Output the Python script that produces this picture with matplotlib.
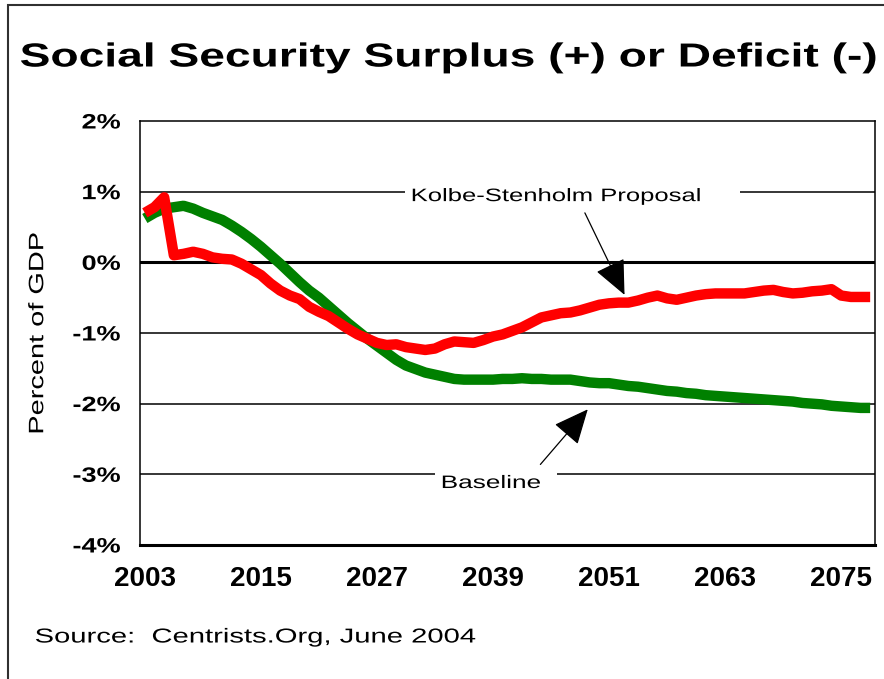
import matplotlib
matplotlib.use("Agg")
import matplotlib.pyplot as plt
from matplotlib.patches import Rectangle
from matplotlib.patheffects import AbstractPathEffect
from matplotlib.transforms import Affine2D

plt.rcParams['font.family'] = ['Liberation Sans', 'DejaVu Sans']

years = list(range(2003, 2079))
kolbe = [0.70, 0.78, 0.92, 0.10, 0.12, 0.15, 0.12, 0.07, 0.05, 0.04,
         -0.02, -0.10, -0.18, -0.30, -0.40, -0.47, -0.52, -0.63, -0.70, -0.76,
         -0.85, -0.94, -1.02, -1.08, -1.14, -1.17, -1.16, -1.20, -1.22, -1.24,
         -1.22, -1.16, -1.12, -1.13, -1.14, -1.10, -1.05, -1.02, -0.97, -0.92,
         -0.85, -0.78, -0.75, -0.72, -0.71, -0.68, -0.64, -0.60, -0.58, -0.57,
         -0.57, -0.54, -0.50, -0.47, -0.51, -0.53, -0.50, -0.47, -0.45, -0.44,
         -0.44, -0.44, -0.44, -0.42, -0.40, -0.39, -0.42, -0.44, -0.43, -0.41,
         -0.40, -0.38, -0.47, -0.49, -0.49, -0.49]
baseline = [0.62, 0.70, 0.76, 0.78, 0.80, 0.76, 0.70, 0.65, 0.60, 0.52,
            0.43, 0.33, 0.22, 0.10, -0.02, -0.15, -0.28, -0.40, -0.50, -0.62,
            -0.74, -0.86, -0.97, -1.08, -1.18, -1.28, -1.38, -1.46, -1.51, -1.56,
            -1.59, -1.62, -1.65, -1.66, -1.66, -1.66, -1.66, -1.65, -1.65, -1.64,
            -1.65, -1.65, -1.66, -1.66, -1.66, -1.68, -1.70, -1.71, -1.71, -1.73,
            -1.75, -1.76, -1.78, -1.80, -1.82, -1.83, -1.85, -1.86, -1.88, -1.89,
            -1.90, -1.91, -1.92, -1.93, -1.94, -1.95, -1.96, -1.97, -1.99, -2.00,
            -2.01, -2.03, -2.04, -2.05, -2.06, -2.06]
xtick_years = [2003, 2015, 2027, 2039, 2051, 2063, 2075]
yticks = [2, 1, 0, -1, -2, -3, -4]
ytick_labels = ["2%", "1%", "0%", "-1%", "-2%", "-3%", "-4%"]


class Stretch(AbstractPathEffect):
    """Render text glyphs widened along one display axis."""
    def __init__(self, sx=1.0, sy=1.0, ax_anchor="center", ay_anchor="center"):
        super().__init__()
        self.sx, self.sy = sx, sy
        self.ax_anchor, self.ay_anchor = ax_anchor, ay_anchor

    def draw_path(self, renderer, gc, tpath, affine, rgbFace=None):
        bb = tpath.get_extents(affine)
        x0 = {"left": bb.x0, "right": bb.x1, "center": (bb.x0 + bb.x1) / 2}[self.ax_anchor]
        y0 = {"bottom": bb.y0, "top": bb.y1, "center": (bb.y0 + bb.y1) / 2}[self.ay_anchor]
        t = affine + Affine2D().translate(-x0, -y0).scale(self.sx, self.sy).translate(x0, y0)
        renderer.draw_path(gc, tpath, t, rgbFace)


W, H = 884, 679
fig = plt.figure(figsize=(W / 100, H / 100), dpi=100)
fig.patch.set_facecolor("white")

fig.add_artist(Rectangle((8 / W, -0.05), 1.2, 1 - 5 / H + 0.05, transform=fig.transFigure,
                         fill=False, edgecolor="#303030", linewidth=1.5))

ax = fig.add_axes([140 / W, 1 - 545 / H, (875 - 140) / W, (545 - 121) / H])
ax.set_xlim(2002.5, 2078.5)
ax.set_ylim(-4, 2)

for y in yticks:
    if y == 0:
        ax.axhline(y, color="black", linewidth=2.2, zorder=1)
    elif y not in (2, -4):
        ax.axhline(y, color="black", linewidth=1.1, zorder=1)

ax.plot(years, baseline, color="#008000", linewidth=7.5, solid_capstyle="butt", zorder=3)
ax.plot(years, kolbe, color="#FF0000", linewidth=7.5, solid_capstyle="butt", zorder=4)

for side in ("left", "right", "top"):
    ax.spines[side].set_linewidth(1.1)
    ax.spines[side].set_color("black")
ax.spines["bottom"].set_linewidth(2.2)

ax.set_yticks(yticks)
ax.set_yticklabels(ytick_labels, fontsize=15, fontweight="bold")
for lab in ax.get_yticklabels():
    lab.set_path_effects([Stretch(sx=1.3, ax_anchor="right")])
ax.set_xticks(xtick_years)
ax.set_xticklabels([str(y) for y in xtick_years], fontsize=20, fontweight="bold")
ax.tick_params(axis="both", length=0)
ax.tick_params(axis="y", pad=14)
ax.tick_params(axis="x", pad=15)

ylab = ax.set_ylabel("Percent of GDP", fontsize=15, labelpad=26)
ylab.set_path_effects([Stretch(sy=1.39)])

arrow_kw = dict(arrowstyle="-|>,head_length=1.0,head_width=0.45", color="black",
                linewidth=0.9, mutation_scale=22, shrinkA=0, shrinkB=0)
ax.annotate("", xy=(2052.6, -0.46), xytext=(2048.5, 0.70), arrowprops=arrow_kw, zorder=6)
ax.annotate("", xy=(2048.8, -2.08), xytext=(2043.9, -2.86), arrowprops=arrow_kw, zorder=6)

# gaps in the gridlines behind the labels
ax.add_patch(Rectangle((2029.9, 0.9), 34.6, 0.2, facecolor="white", edgecolor="none", zorder=5))
ax.add_patch(Rectangle((2033.0, -3.1), 12.6, 0.2, facecolor="white", edgecolor="none", zorder=5))

t1 = ax.text(2045.5, 0.93, "Kolbe-Stenholm Proposal", fontsize=13, ha="center", va="center", zorder=7)
t1.set_path_effects([Stretch(sx=1.42)])
t2 = ax.text(2038.8, -3.13, "Baseline", fontsize=13, ha="center", va="center", zorder=7)
t2.set_path_effects([Stretch(sx=1.45)])

tt = fig.text(20 / W, 1 - 58 / H, "Social Security Surplus (+) or Deficit (-)",
              fontsize=24, fontweight="bold", ha="left", va="center")
tt.set_path_effects([Stretch(sx=1.385, ax_anchor="left")])
ts = fig.text(35 / W, 1 - 637 / H, "Source:  Centrists.Org, June 2004",
              fontsize=14.5, ha="left", va="center")
ts.set_path_effects([Stretch(sx=1.45, ax_anchor="left")])

fig.savefig("out.png", dpi=100)
